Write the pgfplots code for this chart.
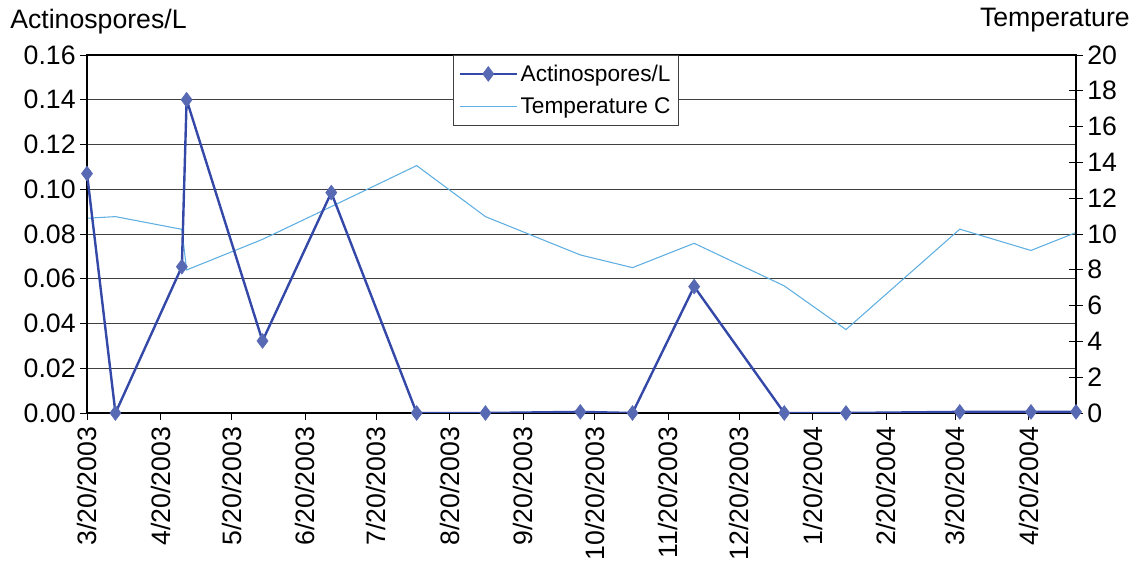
\documentclass[border=0pt]{standalone}
\usepackage{pgfplots}
\pgfplotsset{compat=1.18}
\usepackage{pgfplotstable}
\usepackage{fontspec}
\setmainfont{Liberation Sans}
\definecolor{actline}{RGB}{52,72,168}
\definecolor{actmark}{RGB}{88,105,180}
\definecolor{templine}{RGB}{95,175,225}

\pgfplotstableread{
day act temp
0 0.107 10.88
12 0.000 10.97
40 0.0654 10.26
42 0.140 7.99
74 0.0322 9.70
103 0.0985 11.53
139 0.000 13.82
168 0.000 10.97
208 0.0005 8.83
230 0.000 8.12
256 0.0565 9.48
294 0.000 7.10
320 0.000 4.66
368 0.0005 10.27
398 0.0005 9.08
417 0.0005 10.08
}\datatable

\pgfplotsset{common/.style={
  width=741.75pt, height=268.5pt, scale only axis,
  xmin=0, xmax=417,
  /pgf/number format/assume math mode=true,
  tick label style={font=\fontsize{20}{24}\selectfont},
  label style={font=\fontsize{20}{24}\selectfont},
  major tick style={black, line width=0.6pt},
}}

\begin{document}
\begin{tikzpicture}
\begin{axis}[common,
  axis x line=none, axis y line*=right,
  axis line style={black, line width=1pt},
  ymin=0, ymax=20,
  ytick={0,2,4,6,8,10,12,14,16,18,20},
  tick align=center, major tick length=10pt,
  extra y ticks={2.5,5,7.5,10,12.5,15,17.5},
  extra y tick labels={},
  extra y tick style={grid=major, major tick length=0pt},
  grid style={black!75, line width=0.7pt},
  ylabel={Temperature},
  ylabel style={rotate=-90, at={(rel axis cs:1,1)}, anchor=base east, xshift=40.5pt, yshift=21pt, inner sep=0pt},
]
\addplot[templine, line width=0.8pt, mark=none] table[x=day, y=temp]{\datatable};
\end{axis}
\begin{axis}[common, name=main,
  axis line style={black, line width=1pt},
  ymin=0, ymax=0.16,
  ytick={0,0.02,0.04,0.06,0.08,0.10,0.12,0.14,0.16},
  ytick pos=left, xtick pos=bottom,
  tick align=outside, major tick length=5pt,
  yticklabel style={/pgf/number format/.cd, fixed, fixed zerofill, precision=2},
  xtick={0,31,61,92,122,153,184,214,245,275,306,337,366,397},
  xticklabels={3/20/2003,4/20/2003,5/20/2003,6/20/2003,7/20/2003,8/20/2003,9/20/2003,10/20/2003,11/20/2003,12/20/2003,1/20/2004,2/20/2004,3/20/2004,4/20/2004},
  xticklabel style={rotate=90, anchor=east, yshift=0pt, xshift=-2pt},
  ylabel={Actinospores/L},
  ylabel style={rotate=-90, at={(rel axis cs:0,1)}, anchor=base west, xshift=-57.75pt, yshift=19.5pt, inner sep=0pt},
  legend style={at={(rel axis cs:0.370,1)}, anchor=north west, draw=black!75, line width=0.6pt,
    fill=white, font=\fontsize{17}{20}\selectfont, inner xsep=4pt, inner ysep=5pt, row sep=7pt},
  legend cell align=left,
  legend image code/.code={\draw[mark repeat=2, mark phase=2] plot coordinates {(0cm,0cm) (0.75cm,0cm) (1.5cm,0cm)};},
]
\addplot[actline, line width=1.8pt, mark=diamond*, mark size=5.5pt, mark options={fill=actmark, draw=actmark, line width=0.5pt}] table[x=day, y=act]{\datatable};
\addlegendentry{Actinospores/L}
\addlegendimage{templine, line width=0.8pt, mark=none}
\addlegendentry{Temperature C}
\end{axis}
\pgfresetboundingbox
\path ([xshift=-65.25pt, yshift=-117pt]main.south west) rectangle ([xshift=46.5pt, yshift=41.25pt]main.north east);
\end{tikzpicture}
\end{document}
